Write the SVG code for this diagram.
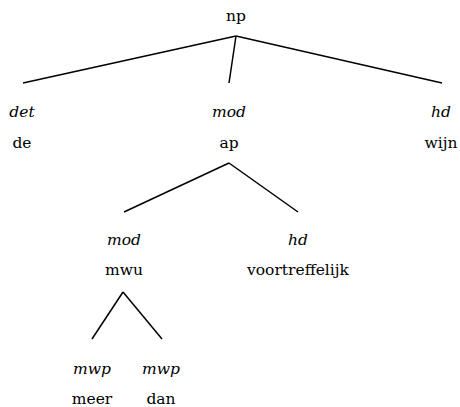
<svg xmlns="http://www.w3.org/2000/svg" width="460" height="407" viewBox="0 0 460 407">
<style>
text{font-family:'DejaVu Serif',serif;font-size:15.5px;fill:#000;text-anchor:middle}
.r{font-style:italic}
line{stroke:#000;stroke-width:1.5}
</style>
<rect width="460" height="407" fill="#fff"/>
<g id="connectors">
<line x1="236" y1="36" x2="23" y2="83"/>
<line x1="236" y1="36" x2="229" y2="83"/>
<line x1="236" y1="36" x2="442" y2="83"/>
<line x1="229" y1="163" x2="124" y2="212"/>
<line x1="229" y1="163" x2="298" y2="212"/>
<line x1="123" y1="292" x2="92" y2="339"/>
<line x1="123" y1="292" x2="162" y2="339"/>
</g>
<g id="np"><text x="236" y="21">np</text></g>
<g id="de"><text class="r" x="22" y="117">det</text><text x="22" y="148">de</text></g>
<g id="ap"><text class="r" x="229" y="117">mod</text><text x="229" y="148">ap</text></g>
<g id="wijn"><text class="r" x="441" y="117">hd</text><text x="441" y="148">wijn</text></g>
<g id="mwu"><text class="r" x="124" y="245">mod</text><text x="124" y="275">mwu</text></g>
<g id="voortreffelijk"><text class="r" x="298" y="245">hd</text><text x="298" y="275">voortreffelijk</text></g>
<g id="meer"><text class="r" x="92" y="374">mwp</text><text x="92" y="404">meer</text></g>
<g id="dan"><text class="r" x="161" y="374">mwp</text><text x="161" y="404">dan</text></g>
</svg>
